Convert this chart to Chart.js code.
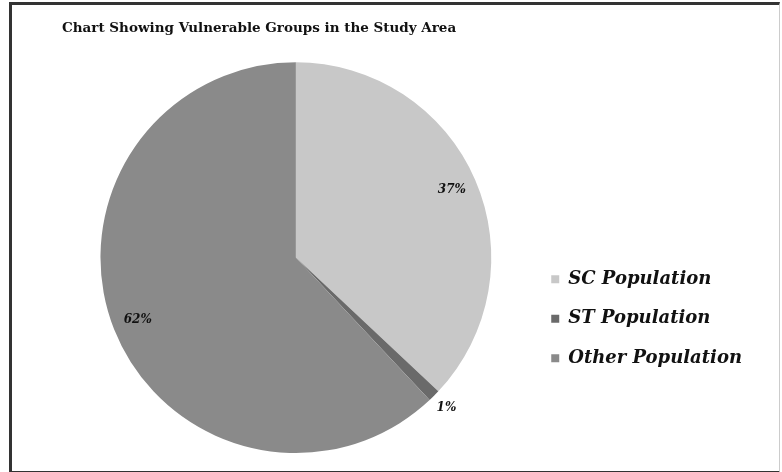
<!DOCTYPE html>
<html>
<head>
<meta charset="utf-8">
<script src="https://cdn.jsdelivr.net/npm/chart.js@4.4.0/dist/chart.umd.min.js"></script>
<style>
  body { margin: 0; background: #fff; }
  #wrap { position: relative; width: 782px; height: 472px; }
  #frame {
    position: absolute; left: 9px; top: 2px; width: 767px; height: 466px;
    border-left: 3px solid #333; border-top: 3px solid #333;
    border-bottom: 3px solid #333; border-right: 1px solid #ccc;
    pointer-events: none;
  }
</style>
</head>
<body>
<div id="wrap">
  <canvas id="pieChart" width="782" height="472"></canvas>
  <div id="frame"></div>
</div>
<script>
const categories = ["SC Population", "ST Population", "Other Population"];
const shares = [37, 1, 62];
const sliceColors = ["#c8c8c8", "#6a6a6a", "#8a8a8a"];

// writes the % figure on every slice, small slices get it outside
const pctLabels = {
  id: "pctLabels",
  afterDatasetsDraw(chart) {
    const ctx = chart.ctx;
    const meta = chart.getDatasetMeta(0);
    ctx.save();
    ctx.font = "italic bold 12px 'DejaVu Serif'";
    ctx.fillStyle = "#111";
    ctx.textAlign = "center";
    ctx.textBaseline = "middle";
    meta.data.forEach(function (arc, i) {
      const p = arc.getProps(["x", "y", "startAngle", "endAngle", "outerRadius"], true);
      const mid = (p.startAngle + p.endAngle) / 2;
      const r = shares[i] < 3 ? p.outerRadius * 1.09 : p.outerRadius * 0.87;
      ctx.fillText(shares[i] + "%", p.x + Math.cos(mid) * r, p.y + Math.sin(mid) * r);
    });
    ctx.restore();
  }
};

var ctx = document.getElementById("pieChart").getContext("2d");
var myChart = new Chart(ctx, {
  type: "pie",
  data: {
    labels: categories,
    datasets: [
      {
        data: shares,
        backgroundColor: sliceColors,
        borderWidth: 0
      }
    ]
  },
  options: {
    responsive: false,
    animation: false,
    layout: {
      padding: { left: 62, right: 30, top: 0, bottom: 19 }
    },
    plugins: {
      title: {
        display: true,
        align: "start",
        text: "Chart Showing Vulnerable Groups in the Study Area",
        color: "#111",
        font: { family: "'DejaVu Serif'", weight: "bold", size: 13.5 },
        padding: { top: 20, bottom: 26 }
      },
      legend: {
        position: "right",
        title: { display: true, text: "", padding: { top: 170, bottom: 0 } },
        labels: {
          boxWidth: 8,
          boxHeight: 8,
          padding: 21.5,
          color: "#111",
          font: { family: "'DejaVu Serif'", style: "italic", weight: "bold", size: 18 }
        }
      },
      tooltip: { enabled: false }
    }
  },
  plugins: [pctLabels]
});
</script>
</body>
</html>
